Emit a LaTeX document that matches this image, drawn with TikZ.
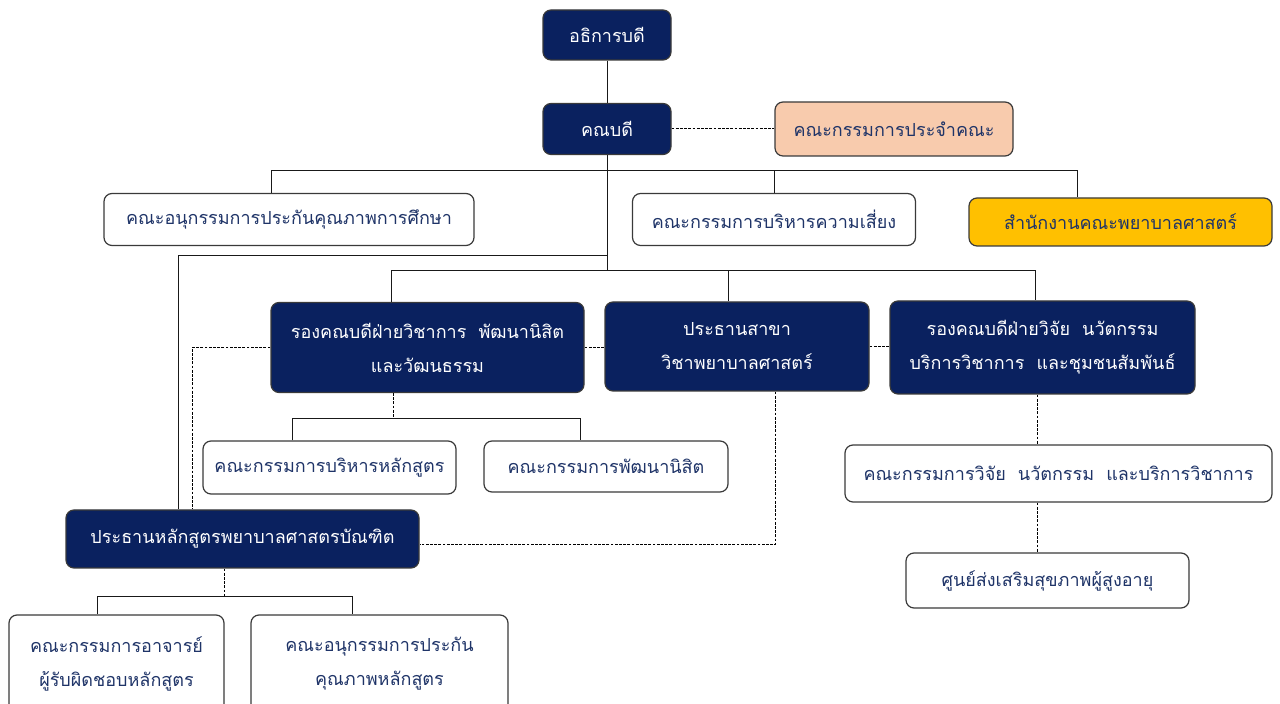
\documentclass[tikz,border=0pt]{standalone}
\usepackage{fontspec}
\newfontfamily\thaifont[Script=Thai]{Loma}
\definecolor{navybox}{HTML}{0A215F}
\definecolor{peachbox}{HTML}{F8CBAD}
\definecolor{goldbox}{HTML}{FFC000}
\definecolor{textblue}{HTML}{1F3468}
\definecolor{edgegray}{HTML}{3A3A3A}

\tikzstyle{unit} = [draw=edgegray,line width=0.6pt,rounded corners=4pt,inner sep=0,align=center,font=\thaifont\fontsize{9}{17}\selectfont]
\tikzstyle{navy} = [unit,fill=navybox,text=white]
\tikzstyle{plain} = [unit,fill=white,text=textblue]
\tikzstyle{peach} = [unit,fill=peachbox,text=textblue]
\tikzstyle{gold} = [unit,fill=goldbox,text=textblue]
\tikzstyle{link} = [draw=black!90,line width=0.5pt]
\tikzstyle{dotlink} = [draw=black,line width=0.5pt,dash pattern=on 1.4pt off 0.7pt]

\begin{document}
\begin{tikzpicture}[x=0.5pt,y=-0.5pt]
\useasboundingbox (0,0) rectangle (1280,704);

%TOP
\node [navy,minimum width=64pt,minimum height=25pt] (rector) at (607,35) {อธิการบดี};
\node [navy,minimum width=64pt,minimum height=25.5pt] (dean) at (607,129) {คณบดี};
\node [peach,minimum width=119pt,minimum height=27pt] (board) at (894,129) {คณะกรรมการประจำคณะ};

\node [plain,minimum width=185pt,minimum height=26pt] (qasub) at (289,219.5) {คณะอนุกรรมการประกันคุณภาพการศึกษา};
\node [plain,minimum width=141.5pt,minimum height=26pt] (risk) at (774,219.5) {คณะกรรมการบริหารความเสี่ยง};
\node [gold,minimum width=151.5pt,minimum height=24pt] (office) at (1120.5,222) {สำนักงานคณะพยาบาลศาสตร์};

%MIDDLE
\node [navy,minimum width=156.5pt,minimum height=45pt] (vpacad) at (427.5,347.5) {รองคณบดีฝ่ายวิชาการ\ \ พัฒนานิสิต\\และวัฒนธรรม};
\node [navy,minimum width=132pt,minimum height=44.5pt] (chair) at (737,346.5) {ประธานสาขา\\วิชาพยาบาลศาสตร์};
\node [navy,minimum width=152.5pt,minimum height=46.5pt] (vpres) at (1042.5,347.5) {รองคณบดีฝ่ายวิจัย\ \ นวัตกรรม\\บริการวิชาการ\ \ และชุมชนสัมพันธ์};

\node [plain,minimum width=126.5pt,minimum height=26.5pt] (curr) at (329.5,467.5) {คณะกรรมการบริหารหลักสูตร};
\node [plain,minimum width=122pt,minimum height=25.5pt] (stud) at (606,466.5) {คณะกรรมการพัฒนานิสิต};
\node [plain,minimum width=213.5pt,minimum height=28.5pt] (rescom) at (1058.5,473.5) {คณะกรรมการวิจัย\ \ นวัตกรรม\ \ และบริการวิชาการ};

%BOTTOM
\node [navy,minimum width=176.5pt,minimum height=29pt] (prog) at (242.5,539) {ประธานหลักสูตรพยาบาลศาสตรบัณฑิต};
\node [plain,minimum width=141.5pt,minimum height=27.5pt] (elder) at (1047.5,580.5) {ศูนย์ส่งเสริมสุขภาพผู้สูงอายุ};
\node [plain,minimum width=107.5pt,minimum height=49pt] (fac) at (116.5,664) {คณะกรรมการอาจารย์\\ผู้รับผิดชอบหลักสูตร};
\node [plain,minimum width=128.5pt,minimum height=49pt] (qacur) at (379.5,664) {คณะอนุกรรมการประกัน\\คุณภาพหลักสูตร};

%LINES
\coordinate (b1) at (271,171);
\coordinate (b2) at (1077,171);
\coordinate (t2) at (607,271);
\coordinate (l1) at (178,256);
\coordinate (c1) at (391,271);
\coordinate (c2) at (728,271);
\coordinate (c3) at (1035,271);
\coordinate (d1) at (192,347.5);
\coordinate (e0) at (292,419);
\coordinate (e1) at (393,419);
\coordinate (e2) at (580,419);
\coordinate (f1) at (775,545);
\coordinate (g1) at (1037,0);
\coordinate (h0) at (97,597);
\coordinate (h1) at (224,597);
\coordinate (h2) at (352,597);

\draw [link] (rector) -- (dean);
\draw [dotlink] (dean) -- (board);
\draw [link] (b1 |- qasub.north) -- (b1) -- (b2) -- (b2 |- office.north);
\draw [link] (risk.north) -- (risk.north |- b1);
\draw [link] (dean) -- (t2);
\draw [link] (l1 -| t2) -- (l1) -- (l1 |- prog.north);
\draw [link] (c1 |- vpacad.north) -- (c1) -- (c3) -- (c3 |- vpres.north);
\draw [link] (c2) -- (c2 |- chair.north);

\draw [dotlink] (vpacad.west) -- (d1) -- (d1 |- prog.north);
\draw [dotlink] (vpacad.east) -- (vpacad.east -| chair.west);
\draw [dotlink] (chair.east) -- (chair.east -| vpres.west);
\draw [dotlink] (vpacad.south -| e1) -- (e1);
\draw [link] (e0 |- curr.north) -- (e0) -- (e2) -- (e2 |- stud.north);
\draw [dotlink] (chair.south -| f1) -- (f1) -- (f1 -| prog.east);
\draw [dotlink] (vpres.south -| g1) -- (rescom.north -| g1);
\draw [dotlink] (rescom.south -| g1) -- (elder.north -| g1);
\draw [dotlink] (prog.south -| h1) -- (h1);
\draw [link] (h0 |- fac.north) -- (h0) -- (h2) -- (h2 |- qacur.north);
\end{tikzpicture}
\end{document}
